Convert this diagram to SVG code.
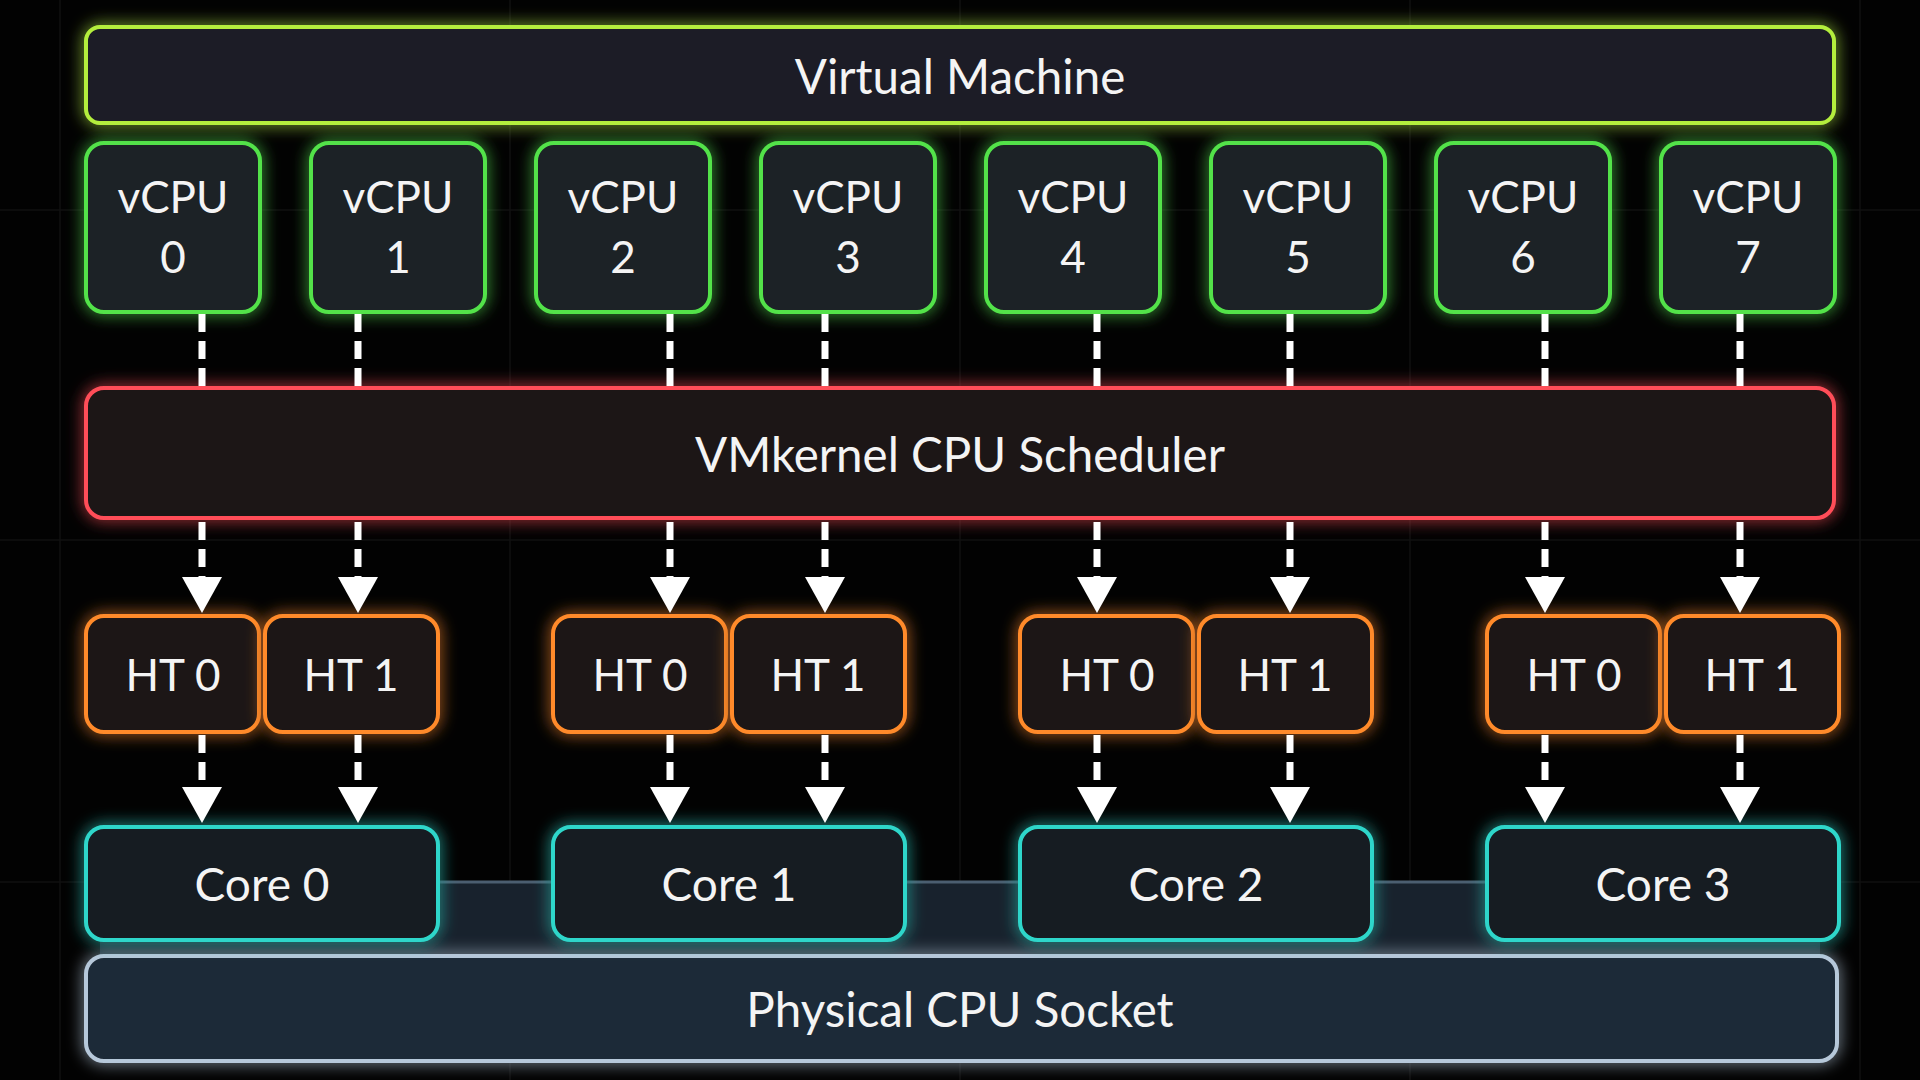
<svg xmlns="http://www.w3.org/2000/svg" width="1920" height="1080" viewBox="0 0 1920 1080">
<defs>
<style>
.t{font-family:Lato,"Noto Sans","DejaVu Sans",sans-serif;fill:#f4f4f4;text-anchor:middle;dominant-baseline:central;font-size:44px}
.big{font-size:47.5px}
.mid{font-size:46px}
.vm{fill:#1a1f25;stroke:#b4ee3c;stroke-width:4}
.vcpu{fill:#1b2126;stroke:#52e24a;stroke-width:4}
.sch{fill:#1f1517;stroke:#ff4e58;stroke-width:4}
.ht{fill:#1c1715;stroke:#ff8a2a;stroke-width:4}
.core{fill:#161d20;stroke:#2fd6ca;stroke-width:4}
.sock{fill:#1f2a37;stroke:#b6c8da;stroke-width:4}
.dash{stroke:#ffffff;stroke-width:7;stroke-dasharray:18 9;fill:none}
.grid{stroke:#101010;stroke-width:1.5}
</style>
<filter id="glow" x="-20%" y="-40%" width="140%" height="180%">
<feGaussianBlur in="SourceGraphic" stdDeviation="8" result="b"/>
<feMerge><feMergeNode in="b"/><feMergeNode in="SourceGraphic"/></feMerge>
</filter>
<marker id="ah" markerUnits="userSpaceOnUse" markerWidth="40" markerHeight="44" viewBox="0 -22 38 44" refX="23" refY="0" orient="auto">
<path d="M0,-20 L36,0 L0,20 Z" fill="#ffffff"/>
</marker>
</defs>
<rect width="1920" height="1080" fill="#020202"/>
<g id="grid">
<line class="grid" x1="60" y1="0" x2="60" y2="1080"/>
<line class="grid" x1="510" y1="0" x2="510" y2="1080"/>
<line class="grid" x1="960" y1="0" x2="960" y2="1080"/>
<line class="grid" x1="1410" y1="0" x2="1410" y2="1080"/>
<line class="grid" x1="1860" y1="0" x2="1860" y2="1080"/>
<line class="grid" x1="0" y1="210" x2="1920" y2="210"/>
<line class="grid" x1="0" y1="540" x2="1920" y2="540"/>
<line class="grid" x1="0" y1="882" x2="1920" y2="882"/>
</g>
<g id="socket-band">
<rect x="100" y="882" width="1720" height="90" fill="#18222d"/>
<line x1="100" y1="882" x2="1820" y2="882" stroke="#4b5e70" stroke-width="3"/>
</g>
<g id="vm"><rect class="vm" filter="url(#glow)" x="86" y="27" width="1748" height="96" rx="14"/><text class="t big" x="960" y="75">Virtual Machine</text></g>
<g id="vcpu0"><rect class="vcpu" filter="url(#glow)" x="86" y="143" width="174" height="169" rx="18"/><text class="t" x="173" y="196">vCPU</text><text class="t" x="173" y="256">0</text></g>
<g id="vcpu1"><rect class="vcpu" filter="url(#glow)" x="311" y="143" width="174" height="169" rx="18"/><text class="t" x="398" y="196">vCPU</text><text class="t" x="398" y="256">1</text></g>
<g id="vcpu2"><rect class="vcpu" filter="url(#glow)" x="536" y="143" width="174" height="169" rx="18"/><text class="t" x="623" y="196">vCPU</text><text class="t" x="623" y="256">2</text></g>
<g id="vcpu3"><rect class="vcpu" filter="url(#glow)" x="761" y="143" width="174" height="169" rx="18"/><text class="t" x="848" y="196">vCPU</text><text class="t" x="848" y="256">3</text></g>
<g id="vcpu4"><rect class="vcpu" filter="url(#glow)" x="986" y="143" width="174" height="169" rx="18"/><text class="t" x="1073" y="196">vCPU</text><text class="t" x="1073" y="256">4</text></g>
<g id="vcpu5"><rect class="vcpu" filter="url(#glow)" x="1211" y="143" width="174" height="169" rx="18"/><text class="t" x="1298" y="196">vCPU</text><text class="t" x="1298" y="256">5</text></g>
<g id="vcpu6"><rect class="vcpu" filter="url(#glow)" x="1436" y="143" width="174" height="169" rx="18"/><text class="t" x="1523" y="196">vCPU</text><text class="t" x="1523" y="256">6</text></g>
<g id="vcpu7"><rect class="vcpu" filter="url(#glow)" x="1661" y="143" width="174" height="169" rx="18"/><text class="t" x="1748" y="196">vCPU</text><text class="t" x="1748" y="256">7</text></g>
<g id="scheduler"><rect class="sch" filter="url(#glow)" x="86" y="388" width="1748" height="130" rx="18"/><text class="t big" x="960" y="453">VMkernel CPU Scheduler</text></g>
<g id="ht-c0-0"><rect class="ht" filter="url(#glow)" x="86" y="616" width="173" height="116" rx="18"/><text class="t" x="173" y="674">HT 0</text></g>
<g id="ht-c0-1"><rect class="ht" filter="url(#glow)" x="265" y="616" width="173" height="116" rx="18"/><text class="t" x="351" y="674">HT 1</text></g>
<g id="ht-c1-0"><rect class="ht" filter="url(#glow)" x="553" y="616" width="173" height="116" rx="18"/><text class="t" x="640" y="674">HT 0</text></g>
<g id="ht-c1-1"><rect class="ht" filter="url(#glow)" x="732" y="616" width="173" height="116" rx="18"/><text class="t" x="818" y="674">HT 1</text></g>
<g id="ht-c2-0"><rect class="ht" filter="url(#glow)" x="1020" y="616" width="173" height="116" rx="18"/><text class="t" x="1107" y="674">HT 0</text></g>
<g id="ht-c2-1"><rect class="ht" filter="url(#glow)" x="1199" y="616" width="173" height="116" rx="18"/><text class="t" x="1285" y="674">HT 1</text></g>
<g id="ht-c3-0"><rect class="ht" filter="url(#glow)" x="1487" y="616" width="173" height="116" rx="18"/><text class="t" x="1574" y="674">HT 0</text></g>
<g id="ht-c3-1"><rect class="ht" filter="url(#glow)" x="1666" y="616" width="173" height="116" rx="18"/><text class="t" x="1752" y="674">HT 1</text></g>
<g id="socket"><rect class="sock" filter="url(#glow)" x="86" y="956" width="1751" height="105" rx="18"/><text class="t big" x="960" y="1008">Physical CPU Socket</text></g>
<g id="core0"><rect class="core" filter="url(#glow)" x="86" y="827" width="352" height="113" rx="18"/><text class="t mid" x="262" y="883">Core 0</text></g>
<g id="core1"><rect class="core" filter="url(#glow)" x="553" y="827" width="352" height="113" rx="18"/><text class="t mid" x="729" y="883">Core 1</text></g>
<g id="core2"><rect class="core" filter="url(#glow)" x="1020" y="827" width="352" height="113" rx="18"/><text class="t mid" x="1196" y="883">Core 2</text></g>
<g id="core3"><rect class="core" filter="url(#glow)" x="1487" y="827" width="352" height="113" rx="18"/><text class="t mid" x="1663" y="883">Core 3</text></g>
<g id="connectors">
<path class="dash" d="M202 314V387M358 314V387M670 314V387M825 314V387M1097 314V387M1290 314V387M1545 314V387M1740 314V387"/>
<path class="dash" marker-end="url(#ah)" d="M202 522V600"/>
<path class="dash" marker-end="url(#ah)" d="M358 522V600"/>
<path class="dash" marker-end="url(#ah)" d="M670 522V600"/>
<path class="dash" marker-end="url(#ah)" d="M825 522V600"/>
<path class="dash" marker-end="url(#ah)" d="M1097 522V600"/>
<path class="dash" marker-end="url(#ah)" d="M1290 522V600"/>
<path class="dash" marker-end="url(#ah)" d="M1545 522V600"/>
<path class="dash" marker-end="url(#ah)" d="M1740 522V600"/>
<path class="dash" marker-end="url(#ah)" d="M202 735V810"/>
<path class="dash" marker-end="url(#ah)" d="M358 735V810"/>
<path class="dash" marker-end="url(#ah)" d="M670 735V810"/>
<path class="dash" marker-end="url(#ah)" d="M825 735V810"/>
<path class="dash" marker-end="url(#ah)" d="M1097 735V810"/>
<path class="dash" marker-end="url(#ah)" d="M1290 735V810"/>
<path class="dash" marker-end="url(#ah)" d="M1545 735V810"/>
<path class="dash" marker-end="url(#ah)" d="M1740 735V810"/>
</g>
</svg>
